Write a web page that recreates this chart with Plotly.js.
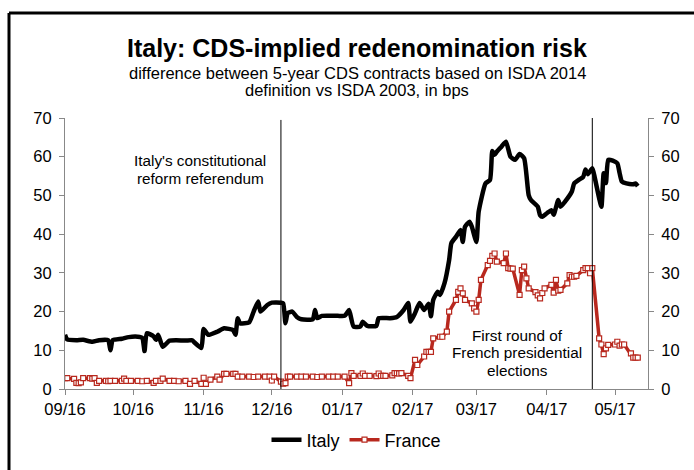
<!DOCTYPE html>
<html>
<head>
<meta charset="utf-8">
<script src="https://cdn.plot.ly/plotly-3.0.1.min.js"></script>
<style>html,body{margin:0;padding:0;background:#fff;}#chart{width:694px;height:470px;}</style>
</head>
<body>
<div id="chart"></div>
<script>
var italyDates = ['2016-09-01','2016-09-02','2016-09-06','2016-09-09','2016-09-13','2016-09-16','2016-09-20','2016-09-21','2016-09-22','2016-09-26','2016-09-29','2016-10-03','2016-10-05','2016-10-06','2016-10-07','2016-10-10','2016-10-11','2016-10-12','2016-10-14','2016-10-17','2016-10-20','2016-10-24','2016-10-27','2016-10-28','2016-10-31','2016-11-01','2016-11-03','2016-11-07','2016-11-10','2016-11-14','2016-11-15','2016-11-16','2016-11-17','2016-11-21','2016-11-23','2016-11-25','2016-11-26','2016-11-29','2016-12-01','2016-12-05','2016-12-06','2016-12-07','2016-12-08','2016-12-10','2016-12-12','2016-12-14','2016-12-19','2016-12-20','2016-12-21','2016-12-23','2016-12-30','2017-01-02','2017-01-03','2017-01-04','2017-01-06','2017-01-09','2017-01-10','2017-01-12','2017-01-16','2017-01-17','2017-01-22','2017-01-25','2017-01-28','2017-01-30','2017-01-31','2017-02-02','2017-02-04','2017-02-06','2017-02-08','2017-02-09','2017-02-10','2017-02-12','2017-02-13','2017-02-15','2017-02-17','2017-02-18','2017-02-20','2017-02-22','2017-02-23','2017-02-24','2017-02-26','2017-02-27','2017-03-01','2017-03-02','2017-03-05','2017-03-07','2017-03-08','2017-03-09','2017-03-10','2017-03-12','2017-03-14','2017-03-16','2017-03-18','2017-03-20','2017-03-22','2017-03-24','2017-03-25','2017-03-28','2017-03-29','2017-03-30','2017-04-01','2017-04-03','2017-04-04','2017-04-06','2017-04-07','2017-04-09','2017-04-12','2017-04-13','2017-04-15','2017-04-17','2017-04-18','2017-04-19','2017-04-21','2017-04-22','2017-04-24','2017-04-25','2017-04-26','2017-04-27','2017-04-28','2017-04-30','2017-05-02','2017-05-03','2017-05-04','2017-05-06','2017-05-09','2017-05-10','2017-05-11'];
var italyValues = [14.0,12.8,12.6,12.7,12.2,12.6,12.6,10.0,12.6,13.0,13.4,13.5,13.2,9.8,14.4,13.6,12.7,14.0,10.9,12.5,12.6,12.5,12.6,12.0,10.6,15.5,14.0,14.8,15.7,15.2,14.0,18.3,17.0,17.2,20.0,22.6,20.0,21.7,22.3,22.3,22.1,17.0,19.6,20.0,18.6,18.0,18.0,20.4,18.3,18.9,18.9,18.9,19.6,20.4,16.1,16.2,17.4,16.3,16.3,18.3,18.3,18.6,20.4,22.2,17.4,19.6,22.2,20.4,22.0,18.8,23.0,25.1,24.3,27.4,33.3,37.7,39.3,41.1,38.0,41.9,43.2,41.9,38.0,45.8,53.1,54.0,61.5,60.5,61.3,62.6,63.9,60.0,59.2,60.7,59.6,50.1,48.8,47.1,44.9,44.5,45.4,46.2,45.0,48.8,47.1,48.4,51.0,53.1,54.0,54.8,56.7,55.5,57.0,54.8,49.3,47.1,55.7,53.2,59.2,59.0,58.3,55.8,53.6,53.1,52.9,53.1,52.4];

var franceDates = ['2016-09-01','2016-09-02','2016-09-05','2016-09-06','2016-09-07','2016-09-08','2016-09-09','2016-09-12','2016-09-13','2016-09-14','2016-09-15','2016-09-16','2016-09-19','2016-09-20','2016-09-21','2016-09-23','2016-09-26','2016-09-27','2016-09-28','2016-09-30','2016-10-03','2016-10-05','2016-10-07','2016-10-10','2016-10-11','2016-10-13','2016-10-14','2016-10-17','2016-10-19','2016-10-21','2016-10-24','2016-10-26','2016-10-28','2016-10-31','2016-11-01','2016-11-02','2016-11-04','2016-11-07','2016-11-08','2016-11-10','2016-11-11','2016-11-14','2016-11-15','2016-11-16','2016-11-18','2016-11-21','2016-11-23','2016-11-25','2016-11-28','2016-11-30','2016-12-01','2016-12-02','2016-12-05','2016-12-06','2016-12-07','2016-12-08','2016-12-09','2016-12-12','2016-12-14','2016-12-16','2016-12-19','2016-12-21','2016-12-23','2016-12-26','2016-12-28','2016-12-30','2017-01-02','2017-01-04','2017-01-05','2017-01-06','2017-01-09','2017-01-10','2017-01-11','2017-01-13','2017-01-16','2017-01-17','2017-01-18','2017-01-19','2017-01-20','2017-01-23','2017-01-24','2017-01-25','2017-01-26','2017-01-27','2017-01-30','2017-01-31','2017-02-02','2017-02-03','2017-02-06','2017-02-07','2017-02-08','2017-02-09','2017-02-10','2017-02-13','2017-02-14','2017-02-16','2017-02-17','2017-02-20','2017-02-21','2017-02-22','2017-02-23','2017-02-24','2017-02-27','2017-02-28','2017-03-01','2017-03-02','2017-03-03','2017-03-06','2017-03-07','2017-03-08','2017-03-09','2017-03-10','2017-03-13','2017-03-14','2017-03-15','2017-03-16','2017-03-17','2017-03-20','2017-03-21','2017-03-22','2017-03-23','2017-03-24','2017-03-27','2017-03-28','2017-03-29','2017-03-30','2017-03-31','2017-04-03','2017-04-04','2017-04-05','2017-04-06','2017-04-07','2017-04-10','2017-04-11','2017-04-12','2017-04-13','2017-04-14','2017-04-17','2017-04-18','2017-04-19','2017-04-20','2017-04-21','2017-04-24','2017-04-25','2017-04-26','2017-04-27','2017-04-28','2017-05-01','2017-05-02','2017-05-03','2017-05-04','2017-05-05','2017-05-08','2017-05-09','2017-05-10','2017-05-11'];
var franceValues = [2.8,2.8,2.6,1.6,1.5,1.7,2.8,2.8,2.7,2.8,1.6,2.1,2.1,2.0,2.1,2.1,2.1,2.7,2.1,2.1,2.1,2.0,2.1,1.6,2.1,2.1,2.7,2.1,2.1,2.0,2.1,1.3,2.1,1.3,2.9,1.3,2.4,3.2,2.4,3.9,3.9,3.9,3.9,3.2,3.2,3.2,3.1,3.2,3.2,3.2,2.2,3.2,1.9,1.4,1.5,3.2,3.2,3.2,3.2,3.2,3.2,3.1,3.2,3.2,3.2,3.2,3.2,1.5,4.1,3.4,3.4,4.0,3.4,3.4,3.3,4.0,3.4,3.4,3.4,3.5,4.1,4.1,4.0,4.1,3.4,2.8,7.5,6.2,8.4,9.6,9.6,9.6,13.1,13.5,13.5,14.8,20.0,23.0,25.1,26.0,24.7,23.0,22.1,20.8,20.0,23.0,28.2,32.0,33.1,34.4,35.0,32.9,32.5,35.0,31.2,31.1,31.1,24.3,30.7,31.6,28.6,26.0,25.0,24.2,23.4,24.8,26.0,26.9,24.9,28.2,25.4,25.6,27.3,29.4,29.0,29.0,29.2,30.7,31.2,31.2,29.9,31.2,13.1,11.5,9.0,10.5,11.4,11.5,12.2,11.2,11.5,11.5,9.2,8.1,8.1,8.1];

var eventDates = ['2016-12-05','2017-04-21'];
var eventLabels = ["Italy's constitutional<br>reform referendum", "First round of<br>French presidential<br>elections"];
var subtitleText = 'difference between 5-year CDS contracts based on ISDA 2014<br>definition vs ISDA 2003, in bps';

var red = '#b8281e';
var font = 'Liberation Sans, Arial, sans-serif';

var traces = [
  {x: italyDates, y: italyValues, type: 'scatter', mode: 'lines', name: 'Italy',
   line: {color: '#000000', width: 4.5, shape: 'spline', smoothing: 0.5}, hoverinfo: 'skip'},
  {x: franceDates, y: franceValues, type: 'scatter', mode: 'lines+markers', name: 'France',
   line: {color: red, width: 3.5}, marker: {symbol: 'square', size: 5, color: '#ffffff', line: {color: red, width: 1.2}}, hoverinfo: 'skip'},
  {x: [franceDates[0]], y: [franceValues[0]], type: 'scatter', mode: 'markers', yaxis: 'y2', showlegend: false,
   marker: {opacity: 0}, hoverinfo: 'skip'}
];

var axisCommon = {showgrid: false, zeroline: false, showline: true, linecolor: '#888888', linewidth: 1,
  ticks: 'outside', ticklen: 5, tickcolor: '#888888', tickfont: {family: font, size: 16.5, color: '#000'}};

// multi-line text blocks placed line by line (pixel layout helpers)
function px2x(px) { return (px - 65) / 583; }
function px2y(py) { return (389 - py) / 271; }
var annotations = [
  {xref: 'paper', yref: 'paper', x: 0.5, y: px2y(48), xanchor: 'center', yanchor: 'middle', showarrow: false,
   text: '<b>Italy: CDS-implied redenomination risk</b>', font: {family: font, size: 25, color: '#000'}}
];
function addLines(text, cx, firstY, step, size) {
  text.split('<br>').forEach(function (t, i) {
    annotations.push({xref: 'paper', yref: 'paper', x: px2x(cx), y: px2y(firstY + i * step), xanchor: 'center', yanchor: 'middle',
      showarrow: false, text: t, font: {family: font, size: size, color: '#000'}});
  });
}
addLines(subtitleText, 357, 73, 17.5, 16.5);
addLines(eventLabels[0], 200, 160, 18, 15.3);
addLines(eventLabels[1], 517, 335, 17.5, 15.3);

var layout = {
  width: 694, height: 470,
  margin: {l: 65, r: 46, t: 118, b: 81, autoexpand: false},
  paper_bgcolor: '#ffffff', plot_bgcolor: '#ffffff',
  font: {family: font, color: '#000'},
  showlegend: true,
  legend: {orientation: 'h', x: 0.5, xanchor: 'center', y: -0.12, yanchor: 'top',
    font: {family: font, size: 18, color: '#000'}, itemwidth: 30, tracegroupgap: 0},
  xaxis: Object.assign({}, axisCommon, {type: 'date', range: ['2016-09-01', '2017-05-15 12:00'],
    dtick: 'M1', tick0: '2016-09-01', tickformat: '%m/%y'}),
  yaxis: Object.assign({}, axisCommon, {range: [0, 70], dtick: 10, ticklabelstandoff: 4}),
  yaxis2: Object.assign({}, axisCommon, {range: [0, 70], dtick: 10, overlaying: 'y', side: 'right', ticklabelstandoff: 4}),
  shapes: [
    {type: 'line', xref: 'x', yref: 'y', x0: eventDates[0], x1: eventDates[0], y0: 0, y1: 69.5, line: {color: '#000', width: 1}},
    {type: 'line', xref: 'x', yref: 'y', x0: eventDates[1], x1: eventDates[1], y0: 0, y1: 70, line: {color: '#000', width: 1}},
    {type: 'line', xref: 'paper', yref: 'paper', x0: px2x(9), x1: px2x(9), y0: -0.35, y1: px2y(13), line: {color: '#000', width: 3}},
    {type: 'line', xref: 'paper', yref: 'paper', x0: px2x(9), x1: 1.12, y0: px2y(13), y1: px2y(13), line: {color: '#000', width: 3}}
  ],
  annotations: annotations
};

Plotly.newPlot('chart', traces, layout, {displayModeBar: false, staticPlot: true});
</script>
</body>
</html>
